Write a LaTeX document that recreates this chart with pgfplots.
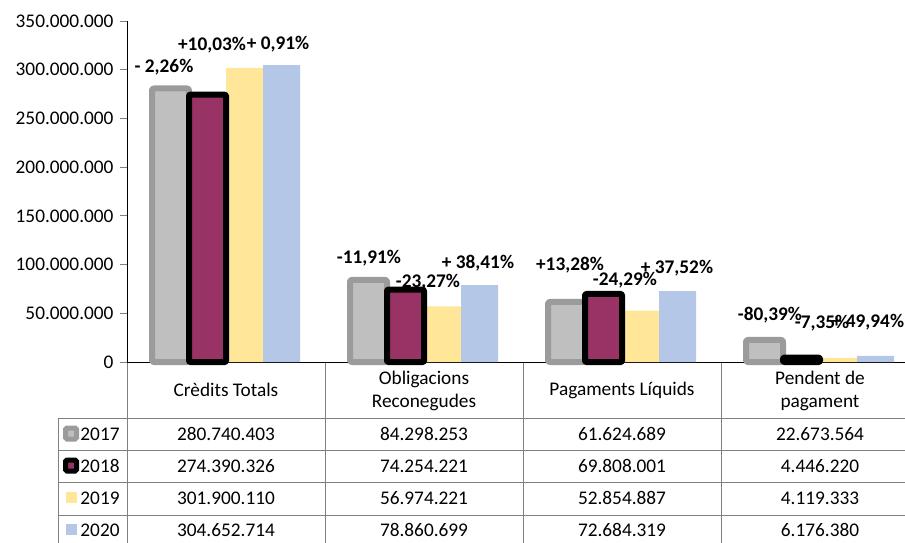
\documentclass[border=0pt]{standalone}
\usepackage{fontspec}
\setmainfont{Carlito}
\usepackage{pgfplots}
\pgfplotsset{compat=1.18}
\definecolor{g17}{RGB}{191,191,191}
\definecolor{g17b}{RGB}{155,155,155}
\definecolor{m18}{RGB}{153,51,102}
\definecolor{y19}{RGB}{255,230,153}
\definecolor{b20}{RGB}{180,199,231}
\definecolor{tgrid}{RGB}{128,128,128}
\begin{document}
\begin{tikzpicture}[font=\fontsize{19.3pt}{23pt}\selectfont]
\begin{axis}[
  at={(127pt,-362pt)}, anchor=south west,
  scale only axis, width=778pt, height=341pt,
  xmin=-0.5, xmax=3.4293, ymin=0, ymax=350e6,
  axis lines=left, axis line style={-,black,line width=0.8pt},
  xtick=\empty,
  scaled y ticks=false,
  ytick={0,50e6,100e6,150e6,200e6,250e6,300e6,350e6},
  yticklabels={0,50.000.000,100.000.000,150.000.000,200.000.000,250.000.000,300.000.000,350.000.000},
  yticklabel style={xshift=-3pt},
  tick align=outside, major tick length=7pt,
  ytick style={draw=tgrid,line width=0.8pt},
  ybar=0pt, bar width=37pt,
  clip=false,
]
\addplot[fill=g17, draw=g17b, line width=6pt, line join=round, rounded corners=2pt, bar shift=-55.5pt]
  coordinates {(0,280740403) (1,84298253) (2,61624689) (3,22673564)};
\addplot[fill=y19, draw=none, bar shift=18.5pt]
  coordinates {(0,301900110) (1,56974221) (2,52854887) (3,4119333)};
\addplot[fill=b20, draw=none, bar shift=55.5pt]
  coordinates {(0,304652714) (1,78860699) (2,72684319) (3,6176380)};
\addplot[fill=m18, draw=black, line width=6pt, line join=round, rounded corners=1pt, bar shift=-18.5pt]
  coordinates {(0,274390326) (1,74254221) (2,69808001) (3,4446220)};
\end{axis}
% percentage labels
\begin{scope}[font=\fontsize{19.3pt}{23pt}\selectfont\bfseries]
\node at (164pt,-67pt) {- 2,26\%};
\node at (212pt,-45pt) {+10,03\%};
\node at (278pt,-44pt) {+ 0,91\%};
\node at (369pt,-258pt) {-11,91\%};
\node at (428pt,-282pt) {-23,27\%};
\node at (478pt,-263pt) {+ 38,41\%};
\node at (570pt,-265pt) {+13,28\%};
\node at (677pt,-268pt) {+ 37,52\%};
\node at (625pt,-280pt) {-24,29\%};
\node at (770pt,-315pt) {-80,39\%};
\node at (868pt,-322pt) {+ 49,94\%};
\node at (822pt,-323pt) {-7,35\%};
\end{scope}
% table
\begin{scope}[tgrid, line width=0.8pt]
\draw (127pt,-363pt) -- (127pt,-545pt);
\draw (325pt,-363pt) -- (325pt,-545pt);
\draw (523pt,-363pt) -- (523pt,-545pt);
\draw (721pt,-363pt) -- (721pt,-545pt);
\draw (58pt,-418pt) -- (58pt,-545pt);
\foreach \yy in {418,450,482,515} \draw (58pt,-\yy pt) -- (910pt,-\yy pt);
\end{scope}
\node at (226pt,-390pt) {Crèdits Totals};
\node[align=center] at (424pt,-391pt) {Obligacions\\Reconegudes};
\node at (622pt,-390pt) {Pagaments Líquids};
\node[align=center] at (820pt,-391pt) {Pendent de\\pagament};
% keys and years
\draw[g17b, fill=g17, line width=5pt, rounded corners=1.5pt] (65.5pt,-428pt) rectangle (76.5pt,-439pt);
\draw[black, fill=m18, line width=5pt, rounded corners=1.5pt] (65.5pt,-460pt) rectangle (76.5pt,-471pt);
\fill[y19] (66pt,-492pt) rectangle (77pt,-503pt);
\fill[b20] (66pt,-524pt) rectangle (77pt,-535pt);
\node at (100pt,-434pt) {2017};
\node at (100pt,-466pt) {2018};
\node at (100pt,-498pt) {2019};
\node at (100pt,-530pt) {2020};
\node at (226pt,-434pt) {280.740.403};
\node at (424pt,-434pt) {84.298.253};
\node at (622pt,-434pt) {61.624.689};
\node at (820pt,-434pt) {22.673.564};
\node at (226pt,-466pt) {274.390.326};
\node at (424pt,-466pt) {74.254.221};
\node at (622pt,-466pt) {69.808.001};
\node at (820pt,-466pt) {4.446.220};
\node at (226pt,-498pt) {301.900.110};
\node at (424pt,-498pt) {56.974.221};
\node at (622pt,-498pt) {52.854.887};
\node at (820pt,-498pt) {4.119.333};
\node at (226pt,-530pt) {304.652.714};
\node at (424pt,-530pt) {78.860.699};
\node at (622pt,-530pt) {72.684.319};
\node at (820pt,-530pt) {6.176.380};
\pgfresetboundingbox
\useasboundingbox (0pt,0pt) rectangle (905pt,-542pt);
\end{tikzpicture}
\end{document}
